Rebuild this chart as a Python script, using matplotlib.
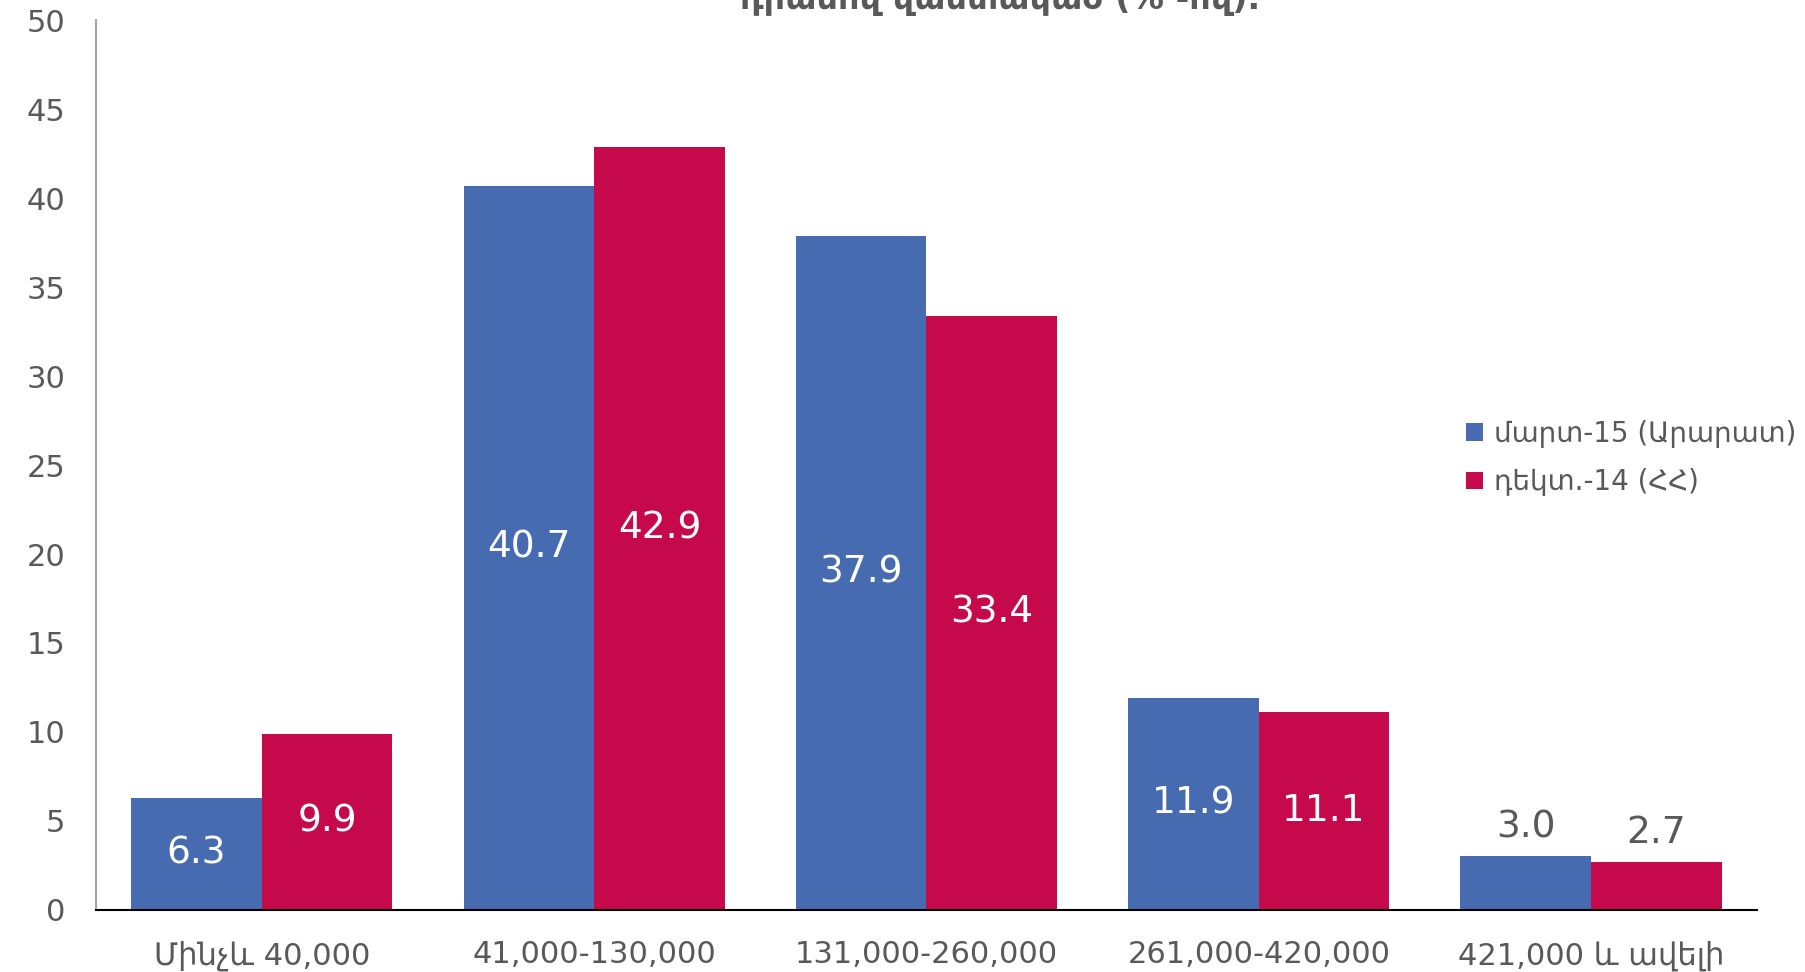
import matplotlib
matplotlib.use("Agg")
import matplotlib.pyplot as plt
import numpy as np

plt.rcParams['font.family'] = ['DejaVu Sans']

# Daten
kategorien = ["Մինչև 40,000", "41,000-130,000", "131,000-260,000", "261,000-420,000", "421,000 և ավելի"]
mart15 = [6.3, 40.7, 37.9, 11.9, 3.0]
dekt14 = [9.9, 42.9, 33.4, 11.1, 2.7]
serien_namen = ["մարտ-15 (Արարատ)", "դեկտ.-14 (ՀՀ)"]
titel = "դրամով վաստակած (% -ով)."

blau = "#466BB0"
rot = "#C6094B"
grau = "#595959"

# Diagrammgröße
fig = plt.figure(figsize=(18.06, 9.72), dpi=100)
ax = fig.add_axes([0.053, 0.064, 0.920, 0.915])

x = np.arange(len(kategorien))
b = 0.393
balken1 = ax.bar(x - b / 2, mart15, width=b, color=blau, label=serien_namen[0])
balken2 = ax.bar(x + b / 2, dekt14, width=b, color=rot, label=serien_namen[1])

# Beschriftungen
for balken, werte in [(balken1, mart15), (balken2, dekt14)]:
    for rect, w in zip(balken, werte):
        xc = rect.get_x() + rect.get_width() / 2
        if w < 5:
            ax.text(xc, w + 0.6, f"{w:.1f}", ha="center", va="bottom", color=grau, fontsize=27)
        else:
            ax.text(xc, w / 2, f"{w:.1f}", ha="center", va="center", color="white", fontsize=27)

ax.set_xlim(-0.5, 4.5)
ax.set_ylim(0, 50)
ax.set_yticks(range(0, 51, 5))
ax.set_xticks(x)
ax.set_xticklabels(kategorien)
ax.tick_params(axis="both", length=0, labelsize=22, colors=grau)
ax.tick_params(axis="x", pad=22)
ax.tick_params(axis="y", pad=22)

for s in ["top", "right"]:
    ax.spines[s].set_visible(False)
ax.spines["left"].set_color("#a6a6a6")
ax.spines["left"].set_linewidth(1.5)
ax.spines["bottom"].set_color("black")
ax.spines["bottom"].set_linewidth(1.5)

fig.legend(loc="upper left", bbox_to_anchor=(0.798, 0.594), frameon=False, fontsize=20,
           labelcolor=grau, handlelength=0.6, handleheight=0.6, handletextpad=0.4, labelspacing=0.75)

# abgeschnittener Titel
fig.text(0.554, 1.0, titel, ha="center", va="center", fontsize=24, fontweight="bold", color=grau)

fig.savefig("out.png", dpi=100)
